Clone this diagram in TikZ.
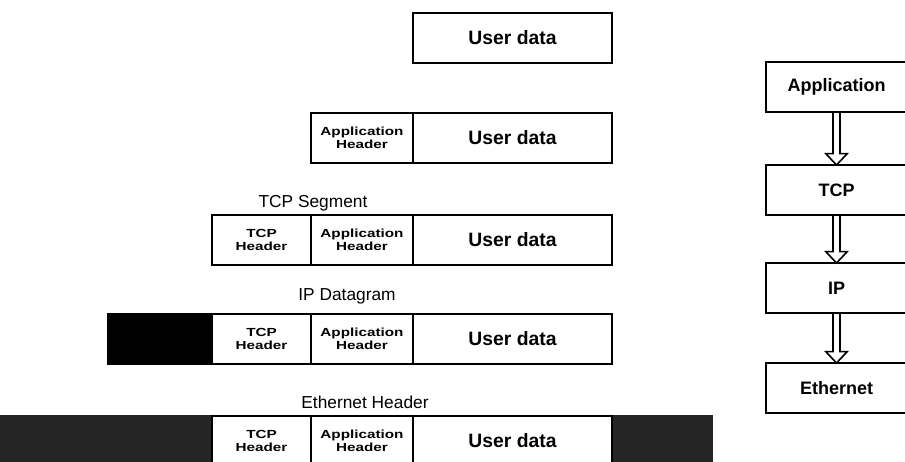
\documentclass[tikz,border=0pt]{standalone}
\usepackage{fontspec}
\setmainfont{Liberation Sans}
\definecolor{darkfill}{RGB}{37,37,37}
\newcommand\hdrtxt[2]{\scalebox{1.3}[1]{#1}\\\scalebox{1.3}[1]{#2}}
\tikzset{
  cell/.style={draw, line width=1.4pt, inner sep=0pt, outer sep=0pt, anchor=north west, minimum height=37.5pt},
  wtcp/.style={minimum width=74.25pt},
  wapp/.style={minimum width=76.5pt},
  wud/.style={minimum width=149.25pt},
  udtext/.style={font=\bfseries\fontsize{14.5}{16}\selectfont},
  hdr/.style={align=center, font=\bfseries\fontsize{8.8}{9.75}\selectfont},
  lab/.style={font=\fontsize{13}{14}\selectfont, inner sep=0pt},
  blk/.style={cell, fill=black},
  dblk/.style={cell, fill=darkfill, draw=darkfill},
  layer/.style={draw, line width=1.4pt, inner sep=0pt, outer sep=0pt, anchor=north west,
    minimum width=105.75pt, minimum height=37.5pt, font=\bfseries\fontsize{13.5}{15}\selectfont},
  arr/.style={line width=1.2pt, line join=miter}
}
\begin{document}
\begin{tikzpicture}[x=0.75pt, y=-0.75pt]
\useasboundingbox (0,0) rectangle (905,461);
\clip (0,0) rectangle (905,461);
% Row 1
\node[cell, wud, udtext] (r1ud) at (413,13) {User data};
% Row 2
\node[cell, wapp, hdr] (r2ah) at (311,113) {\hdrtxt{Application}{Header}};
\node[cell, wud, udtext] (r2ud) at (413,113) {User data};
% Row 3
\node[lab] (lseg) at (313,203) {TCP Segment};
\node[cell, wtcp, hdr] (r3th) at (212,215) {\hdrtxt{TCP}{Header}};
\node[cell, wapp, hdr] (r3ah) at (311,215) {\hdrtxt{Application}{Header}};
\node[cell, wud, udtext] (r3ud) at (413,215) {User data};
% Row 4
\node[lab] (ldg) at (347,296) {IP Datagram};
\node[blk, minimum width=78pt] (r4blk) at (108,314) {};
\node[cell, wtcp, hdr] (r4th) at (212,314) {\hdrtxt{TCP}{Header}};
\node[cell, wapp, hdr] (r4ah) at (311,314) {\hdrtxt{Application}{Header}};
\node[cell, wud, udtext] (r4ud) at (413,314) {User data};
% Row 5
\node[lab] (leth) at (365,402) {Ethernet Header};
\node[dblk, minimum width=162.75pt] (r5bl) at (-5,416) {};
\node[dblk, minimum width=75pt] (r5br) at (612,416) {};
\node[cell, wtcp, hdr] (r5th) at (212,416) {\hdrtxt{TCP}{Header}};
\node[cell, wapp, hdr] (r5ah) at (311,416) {\hdrtxt{Application}{Header}};
\node[cell, wud, udtext] (r5ud) at (413,416) {User data};
% Stack
\node[layer] (app) at (766,62) {Application};
\node[layer] (tcp) at (766,165) {TCP};
\node[layer] (ip) at (766,263) {IP};
\node[layer] (eth) at (766,363) {Ethernet};
\foreach \a/\b in {app/tcp, tcp/ip, ip/eth}{
  \draw[arr] ([xshift=-2.6pt]\a.south) -- ([xshift=-2.6pt,yshift=8.5pt]\b.north)
    -- ([xshift=-8pt,yshift=8.5pt]\b.north) -- (\b.north)
    -- ([xshift=8pt,yshift=8.5pt]\b.north) -- ([xshift=2.6pt,yshift=8.5pt]\b.north)
    -- ([xshift=2.6pt]\a.south);
}
\end{tikzpicture}
\end{document}
